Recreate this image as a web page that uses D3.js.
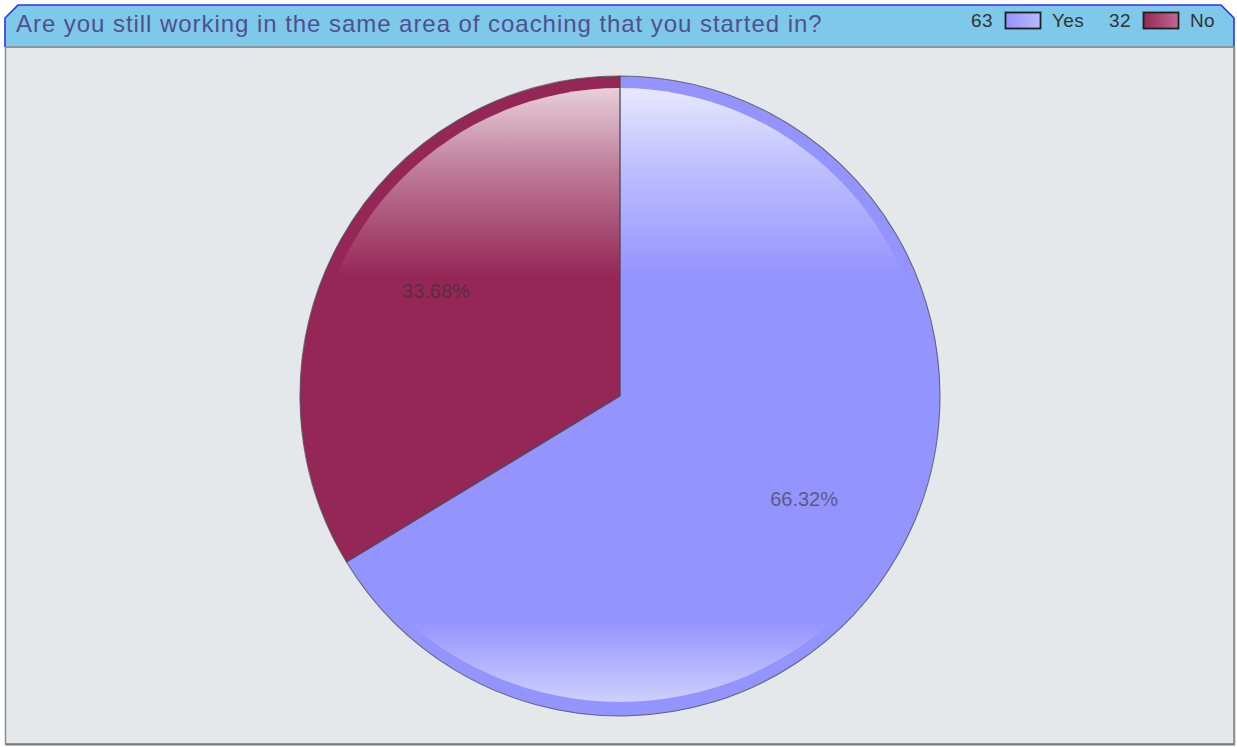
<!DOCTYPE html>
<html>
<head>
<meta charset="utf-8">
<script src="https://cdn.jsdelivr.net/npm/d3@7/dist/d3.min.js"></script>
<style>
  html, body { margin: 0; padding: 0; background: #ffffff; }
  svg { display: block; }
</style>
</head>
<body>
<svg id="chart" width="1237" height="747"></svg>
<script>
// Survey answers
const title = "Are you still working in the same area of coaching that you started in?";
const categories = ["Yes", "No"];
const counts = [63, 32];
const baseColors = ["#9494fe", "#952756"];
const lightColors = ["#b8b8ff", "#c06a8e"];

const W = 1237, H = 747;
const svg = d3.select("#chart");
const defs = svg.append("defs");

// ---- frame: plot panel + header band ----
const panel = { x0: 5.5, x1: 1234, y0: 47, y1: 744 };
svg.append("rect")
  .attr("x", panel.x0).attr("y", panel.y0)
  .attr("width", panel.x1 - panel.x0).attr("height", panel.y1 - panel.y0)
  .attr("fill", "#e4e8eb").attr("stroke", "#8a8a8a").attr("stroke-width", 1.5);
svg.append("line")
  .attr("x1", panel.x0).attr("x2", panel.x1 + 1)
  .attr("y1", panel.y1 + 0.5).attr("y2", panel.y1 + 0.5)
  .attr("stroke", "#7a7a7a").attr("stroke-width", 2);
svg.append("line")
  .attr("x1", panel.x1 + 0.5).attr("x2", panel.x1 + 0.5)
  .attr("y1", panel.y0).attr("y2", panel.y1 + 1)
  .attr("stroke", "#8a8a8a").attr("stroke-width", 1.5);

const header = d3.path();
header.moveTo(5, 47);
header.lineTo(5, 18);
header.lineTo(18, 5);
header.lineTo(1221, 5);
header.lineTo(1234, 18);
header.lineTo(1234, 47);
header.closePath();
svg.append("path").attr("d", header.toString())
  .attr("fill", "#7ec8e9").attr("stroke", "none");
const headerEdge = d3.path();
headerEdge.moveTo(5, 47);
headerEdge.lineTo(5, 18);
headerEdge.lineTo(18, 5);
headerEdge.lineTo(1221, 5);
headerEdge.lineTo(1234, 18);
headerEdge.lineTo(1234, 47);
svg.append("path").attr("d", headerEdge.toString())
  .attr("fill", "none").attr("stroke", "#2f2ff0").attr("stroke-width", 1.6);
svg.append("line")
  .attr("x1", 5).attr("x2", 1235).attr("y1", 47).attr("y2", 47)
  .attr("stroke", "#8c8c8c").attr("stroke-width", 1.5);

svg.append("text")
  .attr("x", 16).attr("y", 32)
  .attr("font-family", "Liberation Sans, Arial, sans-serif")
  .attr("font-size", 24)
  .attr("letter-spacing", 0.95)
  .attr("fill", "#50508f")
  .text(title);

// ---- legend ----
const legendFont = "Liberation Sans, Arial, sans-serif";
const legendItems = [
  { count: counts[0], name: categories[0], x: 971, i: 0 },
  { count: counts[1], name: categories[1], x: 1109, i: 1 }
];
legendItems.forEach(d => {
  const g = defs.append("linearGradient").attr("id", "lg" + d.i)
    .attr("x1", "0%").attr("x2", "100%").attr("y1", "0%").attr("y2", "0%");
  g.append("stop").attr("offset", "0%").attr("stop-color", baseColors[d.i]);
  g.append("stop").attr("offset", "100%").attr("stop-color", lightColors[d.i]);
});
const leg = svg.append("g").attr("font-family", legendFont).attr("font-size", 19)
  .attr("letter-spacing", 0.4).attr("fill", "#333");
legendItems.forEach(d => {
  leg.append("text").attr("x", d.x).attr("y", 27).text(d.count);
  leg.append("rect").attr("x", d.x + 34.5).attr("y", 12.5).attr("width", 35).attr("height", 16)
    .attr("fill", "url(#lg" + d.i + ")").attr("stroke", "#1e1e1e").attr("stroke-width", 1.8);
  leg.append("text").attr("x", d.x + 81).attr("y", 27).text(d.name);
});

// ---- pie ----
const cx = 620, cy = 396, R = 320;
const total = d3.sum(counts);
const pie = d3.pie().sort(null).value(d => d.value);
const arcs = pie(categories.map((c, i) => ({ name: c, value: counts[i], i })));
const arc = d3.arc().innerRadius(0).outerRadius(R);

const pg = svg.append("g").attr("transform", `translate(${cx},${cy})`);
pg.selectAll("path.slice").data(arcs).join("path")
  .attr("class", "slice")
  .attr("d", arc)
  .attr("fill", d => baseColors[d.data.i]);

// glossy highlights (top sheen and bottom glow)
const topGrad = defs.append("linearGradient").attr("id", "sheenTop")
  .attr("gradientUnits", "userSpaceOnUse")
  .attr("x1", 0).attr("x2", 0).attr("y1", -R + 12).attr("y2", -R + 200);
topGrad.append("stop").attr("offset", "0%").attr("stop-color", "#fff").attr("stop-opacity", 0.78);
topGrad.append("stop").attr("offset", "45%").attr("stop-color", "#fff").attr("stop-opacity", 0.38);
topGrad.append("stop").attr("offset", "100%").attr("stop-color", "#fff").attr("stop-opacity", 0);
pg.append("circle").attr("r", R - 12).attr("fill", "url(#sheenTop)");

const botGrad = defs.append("linearGradient").attr("id", "sheenBot")
  .attr("gradientUnits", "userSpaceOnUse")
  .attr("x1", 0).attr("x2", 0).attr("y1", R - 94).attr("y2", R - 14);
botGrad.append("stop").attr("offset", "0%").attr("stop-color", "#fff").attr("stop-opacity", 0);
botGrad.append("stop").attr("offset", "100%").attr("stop-color", "#fff").attr("stop-opacity", 0.55);
pg.append("ellipse").attr("rx", R - 6).attr("ry", R - 14).attr("fill", "url(#sheenBot)");

// slice outlines drawn over the sheen
pg.selectAll("path.edge").data(arcs).join("path")
  .attr("class", "edge")
  .attr("d", arc)
  .attr("fill", "none")
  .attr("stroke", "#4a4a5a").attr("stroke-opacity", 0.75).attr("stroke-width", 1.1);

// percentage labels
const labelArc = d3.arc().innerRadius(R * 0.66).outerRadius(R * 0.66);
pg.selectAll("text.pct").data(arcs).join("text")
  .attr("class", "pct")
  .attr("transform", d => `translate(${labelArc.centroid(d)})`)
  .attr("text-anchor", "middle")
  .attr("dy", "0.3em")
  .attr("font-family", "Liberation Sans, Arial, sans-serif")
  .attr("font-size", 20)
  .attr("fill", "#333")
  .attr("fill-opacity", 0.62)
  .text(d => (d.value / total * 100).toFixed(2) + "%");
</script>
</body>
</html>
